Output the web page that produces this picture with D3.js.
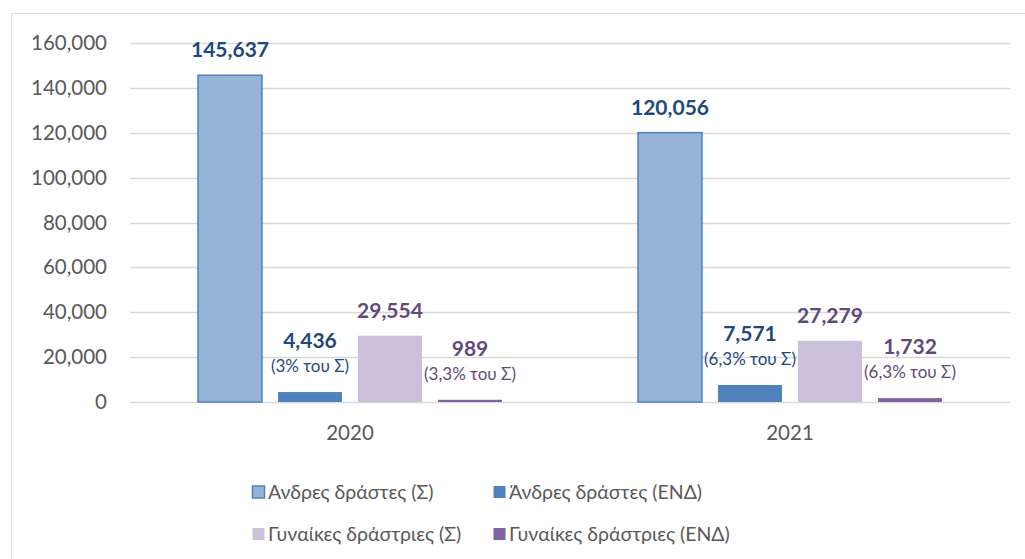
<!DOCTYPE html>
<html>
<head>
<meta charset="utf-8">
<script src="https://cdn.jsdelivr.net/npm/d3@7"></script>
<style>
  body { margin: 0; background: #fff; }
  text { font-family: Lato, "Open Sans", sans-serif; }
</style>
</head>
<body>
<svg id="chart" width="1025" height="559"></svg>
<script>
// data
var years = ["2020", "2021"];
var seriesNames = ["Ανδρες δράστες (Σ)", "Άνδρες δράστες (ΕΝΔ)", "Γυναίκες δράστριες (Σ)", "Γυναίκες δράστριες (ΕΝΔ)"];
var values2020 = [145637, 4436, 29554, 989];
var values2021 = [120056, 7571, 27279, 1732];
var shares2020 = [null, "(3% του Σ)", null, "(3,3% του Σ)"];
var shares2021 = [null, "(6,3% του Σ)", null, "(6,3% του Σ)"];
var yTicks = [0, 20000, 40000, 60000, 80000, 100000, 120000, 140000, 160000];

var fills = ["#95b3d7", "#4f81bd", "#ccc1da", "#8064a2"];
var labelColors = ["#1f497d", "#1f497d", "#604a7b", "#604a7b"];

var svg = d3.select("#chart");

// chart frame
svg.append("rect")
  .attr("x", 11.5).attr("y", 13.5)
  .attr("width", 1030).attr("height", 560)
  .attr("fill", "none").attr("stroke", "#d9d9d9");

var plotLeft = 130, plotRight = 1010, plotTop = 43, plotBottom = 402;

var y = d3.scaleLinear().domain([0, 160000]).range([plotBottom, plotTop]);
var x0 = d3.scaleBand().domain(years).range([plotLeft, plotRight]).paddingInner(0.2727).paddingOuter(0.13635);
var x1 = d3.scaleBand().domain(d3.range(4)).range([0, x0.bandwidth()]).paddingInner(0.2).paddingOuter(0.1);

// gridlines
svg.append("g").selectAll("line")
  .data(yTicks)
  .join("line")
  .attr("x1", plotLeft).attr("x2", plotRight)
  .attr("y1", d => Math.round(y(d)) + 0.5).attr("y2", d => Math.round(y(d)) + 0.5)
  .attr("stroke", "#d9d9d9").attr("stroke-width", 1.3);

// y axis labels
var fmt = d3.format(",");
svg.append("g").selectAll("text")
  .data(yTicks)
  .join("text")
  .attr("x", 107).attr("y", d => y(d) + 7)
  .attr("text-anchor", "end")
  .attr("font-size", 20.5)
  .attr("fill", "#595959")
  .text(d => fmt(d));

// x axis labels
svg.append("g").selectAll("text")
  .data(years)
  .join("text")
  .attr("x", d => x0(d) + x0.bandwidth() / 2)
  .attr("y", 440)
  .attr("text-anchor", "middle")
  .attr("font-size", 20.5)
  .attr("fill", "#595959")
  .text(d => d);

var rows = [
  { year: "2020", values: values2020, shares: shares2020 },
  { year: "2021", values: values2021, shares: shares2021 }
];

var groups = svg.append("g").selectAll("g")
  .data(rows)
  .join("g")
  .attr("transform", d => "translate(" + x0(d.year) + ",0)");

var cells = groups.selectAll("g")
  .data(d => d.values.map((v, i) => ({ i: i, v: v, share: d.shares[i] })))
  .join("g");

cells.append("rect")
  .attr("x", d => x1(d.i))
  .attr("width", x1.bandwidth())
  .attr("y", d => y(d.v))
  .attr("height", d => plotBottom - y(d.v))
  .attr("fill", d => fills[d.i])
  .attr("stroke", d => d.i === 0 ? "#4f81bd" : "none")
  .attr("stroke-width", 1.5);

// value labels
cells.append("text")
  .attr("x", d => x1(d.i) + x1.bandwidth() / 2)
  .attr("y", d => d.share ? y(d.v) - 44 : y(d.v) - 18)
  .attr("text-anchor", "middle")
  .attr("font-size", 21)
  .attr("font-weight", "bold")
  .attr("fill", d => labelColors[d.i])
  .text(d => fmt(d.v));

cells.filter(d => d.share)
  .append("text")
  .attr("x", d => x1(d.i) + x1.bandwidth() / 2)
  .attr("y", d => y(d.v) - 20)
  .attr("text-anchor", "middle")
  .attr("font-size", 17)
  .attr("fill", d => labelColors[d.i])
  .text(d => d.share);

// legend
var legendPos = [[252, 492], [493, 492], [252, 534], [493, 534]];
var legend = svg.append("g").selectAll("g")
  .data(seriesNames)
  .join("g")
  .attr("transform", (d, i) => "translate(" + legendPos[i][0] + "," + legendPos[i][1] + ")");

legend.append("rect")
  .attr("x", 0.5).attr("y", -6)
  .attr("width", 12).attr("height", 12)
  .attr("fill", (d, i) => fills[i])
  .attr("stroke", (d, i) => i === 0 ? "#4f81bd" : "none")
  .attr("stroke-width", 1.5);

legend.append("text")
  .attr("x", 16).attr("y", 7)
  .attr("font-size", 19.5)
  .attr("fill", "#595959")
  .text(d => d);
</script>
</body>
</html>
